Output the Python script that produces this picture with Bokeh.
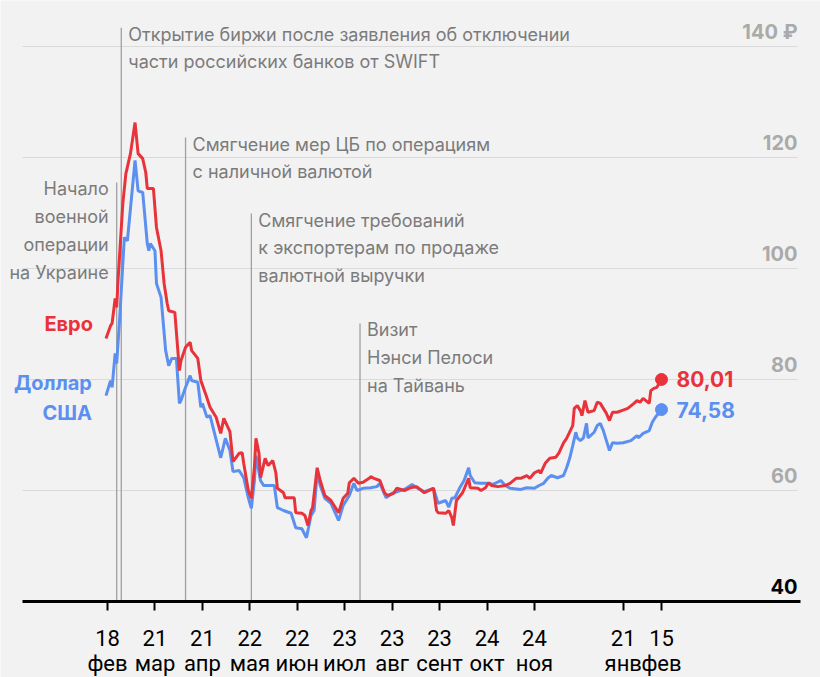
import pandas as pd
from bokeh.plotting import figure
from bokeh.models import FixedTicker, Range1d, Label
from bokeh.core.properties import value
from bokeh.embed import file_html
from bokeh.resources import INLINE

# ---------------- data ----------------
eur_dates = ["2022-02-17","2022-02-20","2022-02-21","2022-02-23","2022-02-24","2022-02-25","2022-02-28",
             "2022-03-02","2022-03-05","2022-03-08","2022-03-10","2022-03-13","2022-03-15","2022-03-16",
             "2022-03-20","2022-03-22","2022-03-25","2022-03-27","2022-03-29","2022-03-30","2022-04-03",
             "2022-04-06","2022-04-07","2022-04-10","2022-04-13","2022-04-14","2022-04-18","2022-04-20",
             "2022-04-23","2022-04-26","2022-04-30","2022-05-03","2022-05-05","2022-05-09","2022-05-11",
             "2022-05-15","2022-05-17","2022-05-18","2022-05-21","2022-05-23","2022-05-25","2022-05-26",
             "2022-05-28","2022-05-29","2022-06-01","2022-06-03","2022-06-06","2022-06-08","2022-06-09",
             "2022-06-13","2022-06-14","2022-06-20","2022-06-21","2022-06-25","2022-06-27","2022-06-29",
             "2022-07-01","2022-07-02","2022-07-05","2022-07-07","2022-07-10","2022-07-14","2022-07-19",
             "2022-07-22","2022-07-25","2022-07-26","2022-07-29","2022-08-01","2022-08-04","2022-08-08",
             "2022-08-09","2022-08-11","2022-08-15","2022-08-18","2022-08-20","2022-08-24","2022-08-26",
             "2022-08-31","2022-09-04","2022-09-08","2022-09-13","2022-09-19","2022-09-21","2022-09-22",
             "2022-09-27","2022-09-29","2022-10-01","2022-10-02","2022-10-04","2022-10-08","2022-10-12",
             "2022-10-13","2022-10-18","2022-10-20","2022-10-23","2022-10-25","2022-10-27","2022-10-31",
             "2022-11-05","2022-11-08","2022-11-12","2022-11-15","2022-11-19","2022-11-21","2022-11-24",
             "2022-11-27","2022-11-28","2022-12-01","2022-12-04","2022-12-08","2022-12-10","2022-12-13",
             "2022-12-15","2022-12-19","2022-12-20","2022-12-22","2022-12-24","2022-12-25","2022-12-27",
             "2022-12-29","2023-01-02","2023-01-04","2023-01-06","2023-01-08","2023-01-10","2023-01-12",
             "2023-01-14","2023-01-17","2023-01-20","2023-01-24","2023-01-28","2023-01-30","2023-02-01",
             "2023-02-03","2023-02-07","2023-02-08","2023-02-10","2023-02-12","2023-02-15"]
eur_values = [87.4,89.7,90.1,94.6,93.0,98.4,111.7,
              117.1,120.7,126.3,120.7,119.8,117.3,114.4,
              114.4,107.4,103.2,97.3,93.7,92.4,92.1,
              81.6,83.4,85.8,86.7,85.2,83.8,79.8,
              77.5,75.0,73.2,70.3,73.0,70.6,65.2,
              66.7,66.8,64.9,60.0,58.6,64.2,69.4,
              66.7,62.3,65.8,64.5,65.4,63.2,60.4,
              59.6,58.7,58.7,56.0,55.9,55.5,53.7,
              56.4,56.9,64.1,61.8,59.1,58.2,56.0,
              58.6,59.5,61.4,62.2,61.3,61.5,62.2,
              62.5,62.2,61.8,59.6,59.1,59.5,60.4,
              60.0,60.5,60.7,59.6,60.4,56.4,56.0,
              55.9,56.4,55.1,53.7,58.2,59.6,62.2,
              60.5,60.4,60.0,60.5,61.4,60.9,60.7,
              60.9,61.3,62.2,62.2,62.7,62.2,63.2,
              63.6,63.1,64.9,65.8,66.0,66.8,68.6,
              69.4,71.7,74.8,75.3,74.4,73.5,76.2,
              74.1,74.4,75.9,75.7,74.8,73.9,72.6,
              74.1,74.1,74.4,74.8,75.7,76.2,75.9,
              76.6,75.7,78.0,78.4,78.6,80.01]

usd_dates = ["2022-02-17","2022-02-20","2022-02-21","2022-02-23","2022-02-24","2022-02-26","2022-03-01",
             "2022-03-03","2022-03-08","2022-03-10","2022-03-13","2022-03-16","2022-03-17","2022-03-18",
             "2022-03-21","2022-03-22","2022-03-25","2022-03-28","2022-03-30","2022-04-01","2022-04-04",
             "2022-04-06","2022-04-07","2022-04-10","2022-04-13","2022-04-14","2022-04-18","2022-04-20",
             "2022-04-21","2022-04-24","2022-04-26","2022-05-03","2022-05-06","2022-05-09","2022-05-11",
             "2022-05-15","2022-05-18","2022-05-21","2022-05-23","2022-05-25","2022-05-26","2022-05-29",
             "2022-05-31","2022-06-07","2022-06-09","2022-06-13","2022-06-18","2022-06-21","2022-06-25",
             "2022-06-28","2022-07-01","2022-07-03","2022-07-05","2022-07-07","2022-07-10","2022-07-14",
             "2022-07-19","2022-07-22","2022-07-26","2022-07-29","2022-07-31","2022-08-04","2022-08-09",
             "2022-08-13","2022-08-15","2022-08-19","2022-08-23","2022-08-31","2022-09-05","2022-09-08",
             "2022-09-13","2022-09-19","2022-09-22","2022-09-27","2022-09-29","2022-10-01","2022-10-03",
             "2022-10-06","2022-10-09","2022-10-12","2022-10-13","2022-10-16","2022-10-20","2022-10-25",
             "2022-10-28","2022-11-02","2022-11-05","2022-11-08","2022-11-15","2022-11-19","2022-11-24",
             "2022-11-27","2022-11-30","2022-12-03","2022-12-05","2022-12-09","2022-12-13","2022-12-15",
             "2022-12-17","2022-12-19","2022-12-21","2022-12-22","2022-12-24","2022-12-26","2022-12-28",
             "2022-12-29","2023-01-02","2023-01-04","2023-01-06","2023-01-08","2023-01-10","2023-01-12",
             "2023-01-14","2023-01-17","2023-01-21","2023-01-26","2023-01-30","2023-01-31","2023-02-03",
             "2023-02-07","2023-02-09","2023-02-11","2023-02-15"]
usd_values = [77.1,79.8,78.6,84.7,82.9,91.2,105.6,
              105.0,119.5,114.0,113.7,104.5,103.2,104.5,
              103.2,97.3,94.8,85.2,82.5,83.8,83.8,
              75.7,76.2,78.6,80.7,79.8,79.5,75.0,
              75.7,73.2,73.5,65.9,69.4,67.2,63.4,
              63.6,62.3,58.7,56.8,61.8,66.3,61.8,
              60.9,60.9,56.9,56.4,55.9,53.3,53.1,
              51.5,55.5,56.4,63.2,60.9,58.6,57.7,
              54.6,57.3,59.1,61.3,60.0,60.4,60.5,
              60.7,61.3,58.7,59.5,60.2,61.1,60.5,
              59.8,60.4,57.7,58.2,57.0,58.6,58.7,
              60.4,61.8,64.1,62.7,61.4,61.3,61.3,
              61.1,61.8,60.9,60.4,60.2,60.5,60.4,
              60.9,61.3,62.3,62.7,62.3,62.7,64.1,
              65.8,68.1,70.5,69.5,69.0,69.5,72.1,
              69.5,70.5,71.7,72.1,70.8,69.0,67.2,
              68.6,68.5,68.6,69.0,69.9,69.5,70.3,
              70.8,72.3,73.2,74.58]

tick_dates = ["2022-02-18","2022-03-21","2022-04-21","2022-05-22","2022-06-22","2022-07-23",
              "2022-08-23","2022-09-23","2022-10-24","2022-11-24","2023-01-21","2023-02-15"]
tick_days = ["18","21","21","22","22","23","23","23","24","24","21","15"]
tick_months = ["фев","мар","апр","мая","июн","июл","авг","сент","окт","ноя","янв","фев"]

y_ticks = [40, 60, 80, 100, 120, 140]
y_tick_labels = ["40", "60", "80", "100", "120", "140 ₽"]

event_dates = ["2022-02-24", "2022-02-27", "2022-04-10", "2022-05-23", "2022-08-02"]
event_texts = ["Начало\nвоенной\nоперации\nна Украине",
               "Открытие биржи после заявления об отключении\nчасти российских банков от SWIFT",
               "Смягчение мер ЦБ по операциям\nс наличной валютой",
               "Смягчение требований\nк экспортерам по продаже\nвалютной выручки",
               "Визит\nНэнси Пелоси\nна Тайвань"]
event_tops = [115.5, 143.4, 123.6, 109.9, 90.1]
event_align = ["right", "left", "left", "left", "left"]

series_names = ["Евро", "Доллар\nСША"]

# ---------------- styling ----------------
BG = "#f2f2f2"
RED = "#e8333a"
BLUE = "#5b8ff0"
GREY_TXT = "#7b7b7b"
FONT = "Inter"


def to_ms(dates):
    return [int(pd.Timestamp(d).value // 10**6) for d in dates]


eur_x = to_ms(eur_dates)
usd_x = to_ms(usd_dates)
tick_x = to_ms(tick_dates)
event_x = to_ms(event_dates)

DAY = 86400000
base = to_ms(["2022-02-18"])[0]
axis_start = base - 55.5 * DAY      # where the axis line begins
axis_end = base + 452.8 * DAY       # where the axis line ends
grid_end = base + 450.9 * DAY       # where grid lines / right labels end

p = figure(width=820, height=677, output_backend="svg", toolbar_location=None,
           x_range=Range1d(base - 69.92 * DAY, base + 465.9 * DAY),
           y_range=Range1d(26.31, 148.29),
           min_border_left=0, min_border_right=0, min_border_top=0, min_border_bottom=0)
p.background_fill_color = BG
p.border_fill_color = BG
p.outline_line_color = None

p.yaxis.visible = False
p.xgrid.visible = False
p.ygrid.visible = False

# horizontal grid lines
grid_vals = y_ticks[1:]
p.segment(x0=[axis_start] * len(grid_vals), y0=grid_vals, x1=[grid_end] * len(grid_vals), y1=grid_vals,
          line_color="#dadada", line_width=1)

ax = p.xaxis[0]
ax.fixed_location = y_ticks[0]
ax.bounds = (axis_start, axis_end)
ax.ticker = FixedTicker(ticks=tick_x)
ax.major_label_overrides = {t: f"{d}\n{m}" for t, d, m in zip(tick_x, tick_days, tick_months)}
ax.axis_line_color = "black"
ax.axis_line_width = 3
ax.major_tick_line_color = "black"
ax.major_tick_line_width = 2
ax.major_tick_out = 9
ax.major_tick_in = 0
ax.minor_tick_line_color = None
ax.major_label_standoff = 15
ax.major_label_text_font = "Roboto"
ax.major_label_text_font_size = "22px"
ax.major_label_text_color = "black"
ax.major_label_text_line_height = 1.0

# right-side value labels
p.text(x=[grid_end] * len(y_ticks), y=y_ticks, text=y_tick_labels,
       y_offset=-15, text_align="right", text_baseline="alphabetic",
       text_font=value(FONT), text_font_style="bold", text_font_size="20px",
       text_color=["black"] + ["#aaaaaa"] * (len(y_ticks) - 1))

# event lines and texts
p.segment(x0=event_x, y0=[y_ticks[0]] * len(event_x), x1=event_x, y1=event_tops,
          line_color="#a0a0a0", line_width=1.3)
for ex, et, top, al in zip(event_x, event_texts, event_tops, event_align):
    p.add_layout(Label(x=ex, y=top, text=et, text_align=al, text_baseline="top",
                       x_offset=-8 if al == "right" else 7, y_offset=4,
                       text_font=FONT, text_font_size="18px", text_color=GREY_TXT,
                       text_line_height=1.32))

# series
p.line(usd_x, usd_values, line_color=BLUE, line_width=3)
p.line(eur_x, eur_values, line_color=RED, line_width=3)

p.scatter([usd_x[-1]], [usd_values[-1]], size=12, color=BLUE)
p.scatter([eur_x[-1]], [eur_values[-1]], size=12, color=RED)

p.text(x=[eur_x[-1]], y=[eur_values[-1]], text=[f"{eur_values[-1]:.2f}".replace(".", ",")],
       x_offset=15, text_baseline="middle", text_font=value(FONT), text_font_style="bold",
       text_font_size="21px", text_color=RED)
p.text(x=[usd_x[-1]], y=[usd_values[-1]], text=[f"{usd_values[-1]:.2f}".replace(".", ",")],
       x_offset=15, text_baseline="middle", text_font=value(FONT), text_font_style="bold",
       text_font_size="21px", text_color=BLUE)

p.add_layout(Label(x=eur_x[0], y=eur_values[0], text=series_names[0], text_align="right",
                   text_baseline="middle", x_offset=-13, y_offset=14, text_font=FONT,
                   text_font_style="bold", text_font_size="20px", text_color=RED))
p.add_layout(Label(x=usd_x[0], y=usd_values[0], text=series_names[1], text_align="right",
                   text_baseline="top", x_offset=-14, y_offset=25, text_font=FONT,
                   text_font_style="bold", text_font_size="20px", text_color=BLUE,
                   text_line_height=1.25))

open("out.html", "w").write(file_html(p, INLINE))
